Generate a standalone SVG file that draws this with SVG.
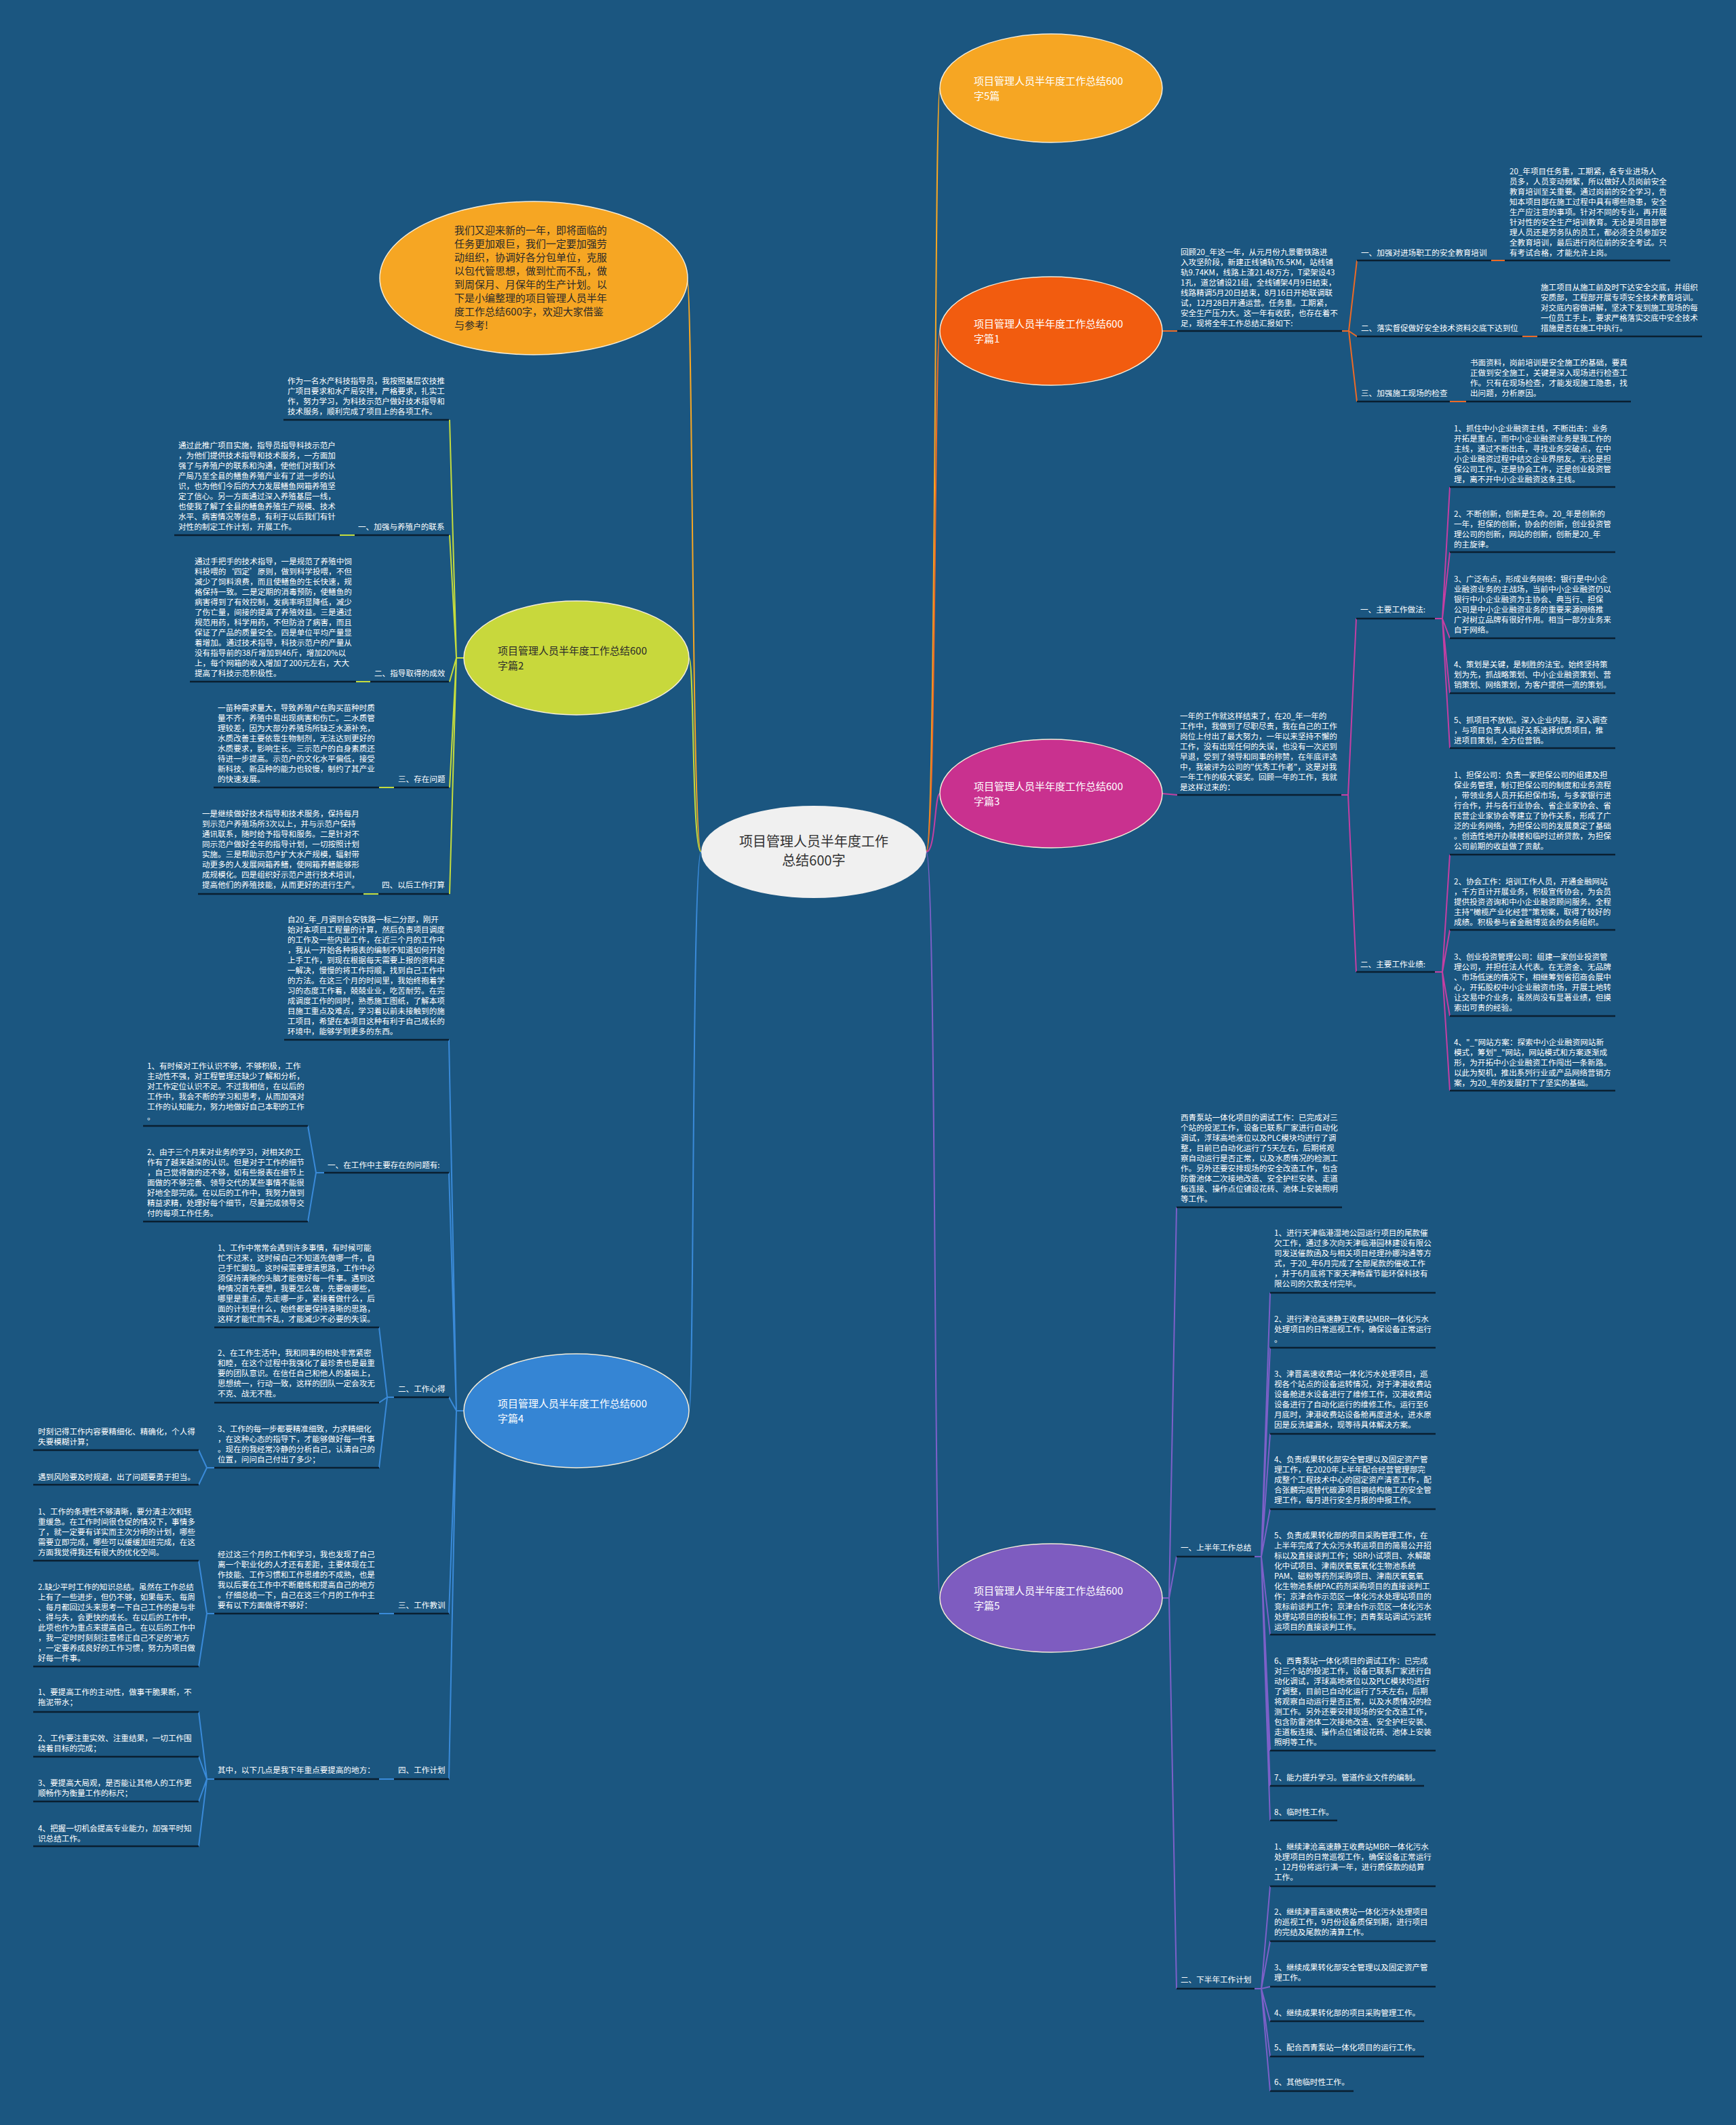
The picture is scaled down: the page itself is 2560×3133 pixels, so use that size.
<svg xmlns="http://www.w3.org/2000/svg" width="2560" height="3133" viewBox="0 0 2560 3133">
<style>
.w{fill:#ffffff;font-family:"Noto Sans CJK SC","Noto Sans",sans-serif;font-size:11.6px}
.nt{fill:#ffffff;font-family:"Noto Sans CJK SC","Noto Sans",sans-serif;font-size:15px}
.nd{fill:#2a2a2a;font-family:"Noto Sans CJK SC","Noto Sans",sans-serif;font-size:15px}
.ct{fill:#333333;font-family:"Noto Sans CJK SC","Noto Sans",sans-serif;font-size:20px;text-anchor:middle}
.u{stroke:#0a1f30;stroke-width:2.5;fill:none}
.c{fill:none;stroke-width:2}
.co{stroke:#f6a623}
.c1{stroke:#ee6a25}
.c3{stroke:#c43fa3}
.c5{stroke:#7c60c8}
.c2{stroke:#c5dc3c}
.c4{stroke:#3a8ad8}
.nodeE{stroke:#f4ecd8;stroke-width:1.5}
</style>
<rect x="0" y="0" width="2560" height="3133" fill="#1b5680"/>

<g id="connectors">
  <!-- center to main nodes -->
  <path class="c co" d="M1366 1256 C1380 1256 1378 130 1386 130"/>
  <path class="c c1" d="M1366 1256 C1380 1256 1378 488 1386 488"/>
  <path class="c c3" d="M1366 1256 C1380 1256 1378 1170 1386 1170"/>
  <path class="c c5" d="M1366 1256 C1380 1256 1378 2356 1386 2356"/>
  <path class="c co" d="M1034 1256 C1020 1256 1022 410 1013 410"/>
  <path class="c c2" d="M1034 1256 C1020 1256 1024 970 1016 970"/>
  <path class="c c4" d="M1034 1256 C1020 1256 1024 2080 1016 2080"/>

  <!-- 篇1 -->
  <path class="c c1" d="M1714 488 H1736"/>
  <path class="c c1" d="M1979 488 H1989 M1989 488 L2001 384 M1989 488 L2001 496 M1989 488 L2001 592"/>
  <path class="c c1" d="M2199 384 H2219 M2245 496 H2267 M2138 592 H2162"/>

  <!-- 篇3 -->
  <path class="c c3" d="M1714 1170 L1736 1172"/>
  <path class="c c3" d="M1978 1172 H1988 M1988 1172 L2000 912 M1988 1172 L2000 1433"/>
  <path class="c c3" d="M2116 912 H2127 M2127 912 L2138 718 M2127 912 L2138 814 M2127 912 L2138 941 M2127 912 L2138 1022 M2127 912 L2138 1103"/>
  <path class="c c3" d="M2116 1433 H2127 M2127 1433 L2138 1260 M2127 1433 L2138 1371 M2127 1433 L2138 1498 M2127 1433 L2138 1608"/>

  <!-- 篇5 -->
  <path class="c c5" d="M1714 2356 H1724 M1724 2356 L1735 1780 M1724 2356 L1735 2295 M1724 2356 L1735 2932"/>
  <path class="c c5" d="M1850 2295 H1860 M1860 2295 L1873 1906 M1860 2295 L1873 1987 M1860 2295 L1873 2114 M1860 2295 L1873 2225 M1860 2295 L1873 2410 M1860 2295 L1873 2581 M1860 2295 L1873 2633 M1860 2295 L1873 2684"/>
  <path class="c c5" d="M1850 2932 H1860 M1860 2932 L1873 2781 M1860 2932 L1873 2862 M1860 2932 L1873 2929 M1860 2932 L1873 2980 M1860 2932 L1873 3032 M1860 2932 L1873 3083"/>

  <!-- 篇2 -->
  <path class="c c2" d="M684 970 H673 M673 970 L663 619 M673 970 L663 789 M673 970 L663 1005 M673 970 L663 1161 M673 970 L663 1318"/>
  <path class="c c2" d="M501 789 H523 M525 1005 H546 M559 1161 H581 M536 1318 H558"/>

  <!-- 篇4 -->
  <path class="c c4" d="M684 2080 H673 M673 2080 L662 1533 M673 2080 L662 1729 M673 2080 L662 2060 M673 2080 L662 2379 M673 2080 L662 2623"/>
  <path class="c c4" d="M478 1729 H466 M466 1729 L454 1660 M466 1729 L454 1801"/>
  <path class="c c4" d="M581 2060 H571 M571 2060 L559 1957 M571 2060 L559 2068 M571 2060 L559 2164"/>
  <path class="c c4" d="M316 2164 H305 M305 2164 L293 2138 M305 2164 L293 2189"/>
  <path class="c c4" d="M581 2379 H559 M316 2379 H305 M305 2379 L293 2301 M305 2379 L293 2457"/>
  <path class="c c4" d="M581 2623 H559 M316 2623 H305 M305 2623 L293 2524 M305 2623 L293 2590 M305 2623 L293 2656 M305 2623 L293 2722"/>
</g>

<g id="underlines">
  <path class="u" d="M1736 488 H1979 M2001 384 H2199 M2001 496 H2245 M2001 592 H2138 M2219 384 H2463 M2267 496 H2510 M2162 592 H2405"/>
  <path class="u" d="M1736 1172 H1978 M2000 912 H2116 M2000 1433 H2116 M2138 718 H2382 M2138 814 H2382 M2138 941 H2382 M2138 1022 H2382 M2138 1103 H2382 M2138 1260 H2382 M2138 1371 H2382 M2138 1498 H2382 M2138 1608 H2382"/>
  <path class="u" d="M1735 1780 H1979 M1735 2295 H1850 M1735 2932 H1850 M1873 1906 H2117 M1873 1987 H2117 M1873 2114 H2117 M1873 2225 H2117 M1873 2410 H2117 M1873 2581 H2117 M1873 2633 H2100 M1873 2684 H1972 M1873 2781 H2117 M1873 2862 H2117 M1873 2929 H2117 M1873 2980 H2100 M1873 3032 H2100 M1873 3083 H1996"/>
  <path class="u" d="M418 619 H662 M523 789 H662 M257 789 H501 M546 1005 H662 M280 1005 H525 M581 1161 H662 M315 1161 H559 M558 1318 H662 M292 1318 H536"/>
  <path class="u" d="M419 1533 H662 M478 1729 H662 M211 1660 H454 M211 1801 H454 M581 2060 H662 M316 1957 H559 M316 2068 H559 M316 2164 H559 M49 2138 H293 M49 2189 H293 M581 2379 H662 M316 2379 H559 M49 2301 H293 M49 2457 H293 M581 2623 H662 M316 2623 H559 M49 2524 H293 M49 2590 H293 M49 2656 H293 M49 2722 H293"/>
</g>

<g id="center">
  <ellipse cx="1200" cy="1256" rx="166" ry="68" fill="#f0f0f0"/>
  <text class="ct" x="1200" y="1248">项目管理人员半年度工作</text>
  <text class="ct" x="1200" y="1276">总结600字</text>
</g>

<g id="node-intro">
  <ellipse class="nodeE" cx="787" cy="410" rx="227" ry="113" fill="#f6a623"/>
  <text class="nd" x="670" y="345"><tspan x="670">我们又迎来新的一年，即将面临的</tspan><tspan x="670" dy="20">任务更加艰巨，我们一定要加强劳</tspan><tspan x="670" dy="20">动组织，协调好各分包单位，克服</tspan><tspan x="670" dy="20">以包代管思想，做到忙而不乱，做</tspan><tspan x="670" dy="20">到周保月、月保年的生产计划。以</tspan><tspan x="670" dy="20">下是小编整理的项目管理人员半年</tspan><tspan x="670" dy="20">度工作总结600字，欢迎大家借鉴</tspan><tspan x="670" dy="20">与参考!</tspan></text>
</g>

<g id="node-p5top">
  <ellipse class="nodeE" cx="1550" cy="130" rx="164" ry="80" fill="#f6a623"/>
  <text class="nt" x="1436" y="125"><tspan x="1436">项目管理人员半年度工作总结600</tspan><tspan x="1436" dy="22">字5篇</tspan></text>
</g>

<g id="node-p1">
  <ellipse class="nodeE" cx="1550" cy="488" rx="164" ry="80" fill="#f25c0f"/>
  <text class="nt" x="1436" y="483"><tspan x="1436">项目管理人员半年度工作总结600</tspan><tspan x="1436" dy="22">字篇1</tspan></text>
  <text class="w" x="1741" y="376"><tspan x="1741">回顾20_年这一年，从元月份九景衢铁路进</tspan><tspan x="1741" dy="15">入攻坚阶段，新建正线铺轨76.5KM，站线铺</tspan><tspan x="1741" dy="15">轨9.74KM，线路上渣21.48万方，T梁架设43</tspan><tspan x="1741" dy="15">1孔，道岔铺设21组，全线铺架4月9日结束，</tspan><tspan x="1741" dy="15">线路精调5月20日结束，8月16日开始联调联</tspan><tspan x="1741" dy="15">试，12月28日开通运营。任务重。工期紧，</tspan><tspan x="1741" dy="15">安全生产压力大。这一年有收获，也存在着不</tspan><tspan x="1741" dy="15">足，现将全年工作总结汇报如下:</tspan></text>
  <text class="w" x="2007" y="377">一、加强对进场职工的安全教育培训</text>
  <text class="w" x="2007" y="488">二、落实督促做好安全技术资料交底下达到位</text>
  <text class="w" x="2007" y="584">三、加强施工现场的检查</text>
  <text class="w" x="2226" y="257"><tspan x="2226">20_年项目任务重，工期紧，各专业进场人</tspan><tspan x="2226" dy="15">员多，人员变动频繁，所以做好人员岗前安全</tspan><tspan x="2226" dy="15">教育培训至关重要。通过岗前的安全学习，告</tspan><tspan x="2226" dy="15">知本项目部在施工过程中具有哪些隐患，安全</tspan><tspan x="2226" dy="15">生产应注意的事项。针对不同的专业，再开展</tspan><tspan x="2226" dy="15">针对性的安全生产培训教育。无论是项目部管</tspan><tspan x="2226" dy="15">理人员还是劳务队的员工，都必须全员参加安</tspan><tspan x="2226" dy="15">全教育培训，最后进行岗位前的安全考试。只</tspan><tspan x="2226" dy="15">有考试合格，才能允许上岗。</tspan></text>
  <text class="w" x="2272" y="428"><tspan x="2272">施工项目从施工前及时下达安全交底，并组织</tspan><tspan x="2272" dy="15">安质部，工程部开展专项安全技术教育培训。</tspan><tspan x="2272" dy="15">对交底内容做讲解，坚决下发到施工现场的每</tspan><tspan x="2272" dy="15">一位员工手上，要求严格落实交底中安全技术</tspan><tspan x="2272" dy="15">措施是否在施工中执行。</tspan></text>
  <text class="w" x="2168" y="539"><tspan x="2168">书面资料，岗前培训是安全施工的基础，要真</tspan><tspan x="2168" dy="15">正做到安全施工，关键是深入现场进行检查工</tspan><tspan x="2168" dy="15">作。只有在现场检查，才能发现施工隐患，找</tspan><tspan x="2168" dy="15">出问题，分析原因。</tspan></text>
</g>

<g id="node-p3">
  <ellipse class="nodeE" cx="1550" cy="1170" rx="164" ry="80" fill="#c9318f"/>
  <text class="nt" x="1436" y="1165"><tspan x="1436">项目管理人员半年度工作总结600</tspan><tspan x="1436" dy="22">字篇3</tspan></text>
  <text class="w" x="1740" y="1060"><tspan x="1740">一年的工作就这样结束了，在20_年一年的</tspan><tspan x="1740" dy="15">工作中，我做到了尽职尽责，我在自己的工作</tspan><tspan x="1740" dy="15">岗位上付出了最大努力，一年以来坚持不懈的</tspan><tspan x="1740" dy="15">工作，没有出现任何的失误，也没有一次迟到</tspan><tspan x="1740" dy="15">早退，受到了领导和同事的称赞，在年底评选</tspan><tspan x="1740" dy="15">中，我被评为公司的"优秀工作者"，这是对我</tspan><tspan x="1740" dy="15">一年工作的极大褒奖。回顾一年的工作，我就</tspan><tspan x="1740" dy="15">是这样过来的：</tspan></text>
  <text class="w" x="2006" y="903">一、主要工作做法:</text>
  <text class="w" x="2006" y="1426">二、主要工作业绩:</text>
  <text class="w" x="2144" y="636"><tspan x="2144">1、抓住中小企业融资主线，不断出击：业务</tspan><tspan x="2144" dy="15">开拓是重点，而中小企业融资业务是我工作的</tspan><tspan x="2144" dy="15">主线，通过不断出击，寻找业务突破点，在中</tspan><tspan x="2144" dy="15">小企业融资过程中结交企业界朋友。无论是担</tspan><tspan x="2144" dy="15">保公司工作，还是协会工作，还是创业投资管</tspan><tspan x="2144" dy="15">理，离不开中小企业融资这条主线。</tspan></text>
  <text class="w" x="2144" y="762"><tspan x="2144">2、不断创新，创新是生命。20_年是创新的</tspan><tspan x="2144" dy="15">一年，担保的创新，协会的创新，创业投资管</tspan><tspan x="2144" dy="15">理公司的创新，网站的创新，创新是20_年</tspan><tspan x="2144" dy="15">的主旋律。</tspan></text>
  <text class="w" x="2144" y="858"><tspan x="2144">3、广泛布点，形成业务网络：银行是中小企</tspan><tspan x="2144" dy="15">业融资业务的主战场，当前中小企业融资仍以</tspan><tspan x="2144" dy="15">银行中小企业融资为主协会、典当行、担保</tspan><tspan x="2144" dy="15">公司是中小企业融资业务的重要来源网络推</tspan><tspan x="2144" dy="15">广对树立品牌有很好作用。相当一部分业务来</tspan><tspan x="2144" dy="15">自于网络。</tspan></text>
  <text class="w" x="2144" y="984"><tspan x="2144">4、策划是关键，是制胜的法宝。始终坚持策</tspan><tspan x="2144" dy="15">划为先，抓战略策划、中小企业融资策划、营</tspan><tspan x="2144" dy="15">销策划、网络策划，为客户提供一流的策划。</tspan></text>
  <text class="w" x="2144" y="1066"><tspan x="2144">5、抓项目不放松。深入企业内部，深入调查</tspan><tspan x="2144" dy="15">，与项目负责人搞好关系选择优质项目，推</tspan><tspan x="2144" dy="15">进项目策划，全方位营销。</tspan></text>
  <text class="w" x="2144" y="1147"><tspan x="2144">1、担保公司：负责一家担保公司的组建及担</tspan><tspan x="2144" dy="15">保业务管理，制订担保公司的制度和业务流程</tspan><tspan x="2144" dy="15">，带领业务人员开拓担保市场，与多家银行进</tspan><tspan x="2144" dy="15">行合作，并与各行业协会、省企业家协会、省</tspan><tspan x="2144" dy="15">民营企业家协会等建立了协作关系，形成了广</tspan><tspan x="2144" dy="15">泛的业务网络，为担保公司的发展奠定了基础</tspan><tspan x="2144" dy="15">。创造性地开办赎楼和临时过桥贷款，为担保</tspan><tspan x="2144" dy="15">公司前期的收益做了贡献。</tspan></text>
  <text class="w" x="2144" y="1304"><tspan x="2144">2、协会工作：培训工作人员，开通金融网站</tspan><tspan x="2144" dy="15">，千方百计开展业务，积极宣传协会，为会员</tspan><tspan x="2144" dy="15">提供投资咨询和中小企业融资顾问服务。全程</tspan><tspan x="2144" dy="15">主持"橄榄产业化经营"策划案，取得了较好的</tspan><tspan x="2144" dy="15">成绩。积极参与省金融博览会的会务组织。</tspan></text>
  <text class="w" x="2144" y="1415"><tspan x="2144">3、创业投资管理公司：组建一家创业投资管</tspan><tspan x="2144" dy="15">理公司，并担任法人代表。在无资金、无品牌</tspan><tspan x="2144" dy="15">、市场低迷的情况下，相继筹划省招商会展中</tspan><tspan x="2144" dy="15">心，开拓股权中小企业融资市场，开展土地转</tspan><tspan x="2144" dy="15">让交易中介业务，虽然尚没有显著业绩，但摸</tspan><tspan x="2144" dy="15">索出可贵的经验。</tspan></text>
  <text class="w" x="2144" y="1541"><tspan x="2144">4、"_"网站方案：探索中小企业融资网站新</tspan><tspan x="2144" dy="15">模式，筹划"_"网站，网站模式和方案逐渐成</tspan><tspan x="2144" dy="15">形，为开拓中小企业融资工作闯出一条新路。</tspan><tspan x="2144" dy="15">以此为契机，推出系列行业或产品网络营销方</tspan><tspan x="2144" dy="15">案，为20_年的发展打下了坚实的基础。</tspan></text>
</g>

<g id="node-p5">
  <ellipse class="nodeE" cx="1550" cy="2356" rx="164" ry="80" fill="#7e5cc0"/>
  <text class="nt" x="1436" y="2351"><tspan x="1436">项目管理人员半年度工作总结600</tspan><tspan x="1436" dy="22">字篇5</tspan></text>
  <text class="w" x="1741" y="1652"><tspan x="1741">西青泵站一体化项目的调试工作：已完成对三</tspan><tspan x="1741" dy="15">个站的投泥工作，设备已联系厂家进行自动化</tspan><tspan x="1741" dy="15">调试，浮球高地液位以及PLC模块均进行了调</tspan><tspan x="1741" dy="15">整，目前已自动化运行了5天左右，后期将观</tspan><tspan x="1741" dy="15">察自动运行是否正常，以及水质情况的检测工</tspan><tspan x="1741" dy="15">作。另外还要安排现场的安全改造工作，包含</tspan><tspan x="1741" dy="15">防雷池体二次接地改造、安全护栏安装、走道</tspan><tspan x="1741" dy="15">板连接、操作点位铺设花砖、池体上安装照明</tspan><tspan x="1741" dy="15">等工作。</tspan></text>
  <text class="w" x="1741" y="2286">一、上半年工作总结</text>
  <text class="w" x="1741" y="2923">二、下半年工作计划</text>
  <text class="w" x="1879" y="1822"><tspan x="1879">1、进行天津临港湿地公园运行项目的尾款催</tspan><tspan x="1879" dy="15">欠工作，通过多次向天津临港园林建设有限公</tspan><tspan x="1879" dy="15">司发送催款函及与相关项目经理孙娜沟通等方</tspan><tspan x="1879" dy="15">式，于20_年6月完成了全部尾款的催收工作</tspan><tspan x="1879" dy="15">，并于6月底将下家天津畅霖节能环保科技有</tspan><tspan x="1879" dy="15">限公司的欠款支付完毕。</tspan></text>
  <text class="w" x="1879" y="1949"><tspan x="1879">2、进行津沧高速静王收费站MBR一体化污水</tspan><tspan x="1879" dy="15">处理项目的日常巡视工作，确保设备正常运行</tspan><tspan x="1879" dy="15">。</tspan></text>
  <text class="w" x="1879" y="2030"><tspan x="1879">3、津晋高速收费站一体化污水处理项目，巡</tspan><tspan x="1879" dy="15">视各个站点的设备运转情况，对于津港收费站</tspan><tspan x="1879" dy="15">设备舱进水设备进行了维修工作，汉港收费站</tspan><tspan x="1879" dy="15">设备进行了自动化运行的维修工作。运行至6</tspan><tspan x="1879" dy="15">月底时，津港收费站设备舱再度进水，进水原</tspan><tspan x="1879" dy="15">因是反洗罐漏水，现等待具体解决方案。</tspan></text>
  <text class="w" x="1879" y="2156"><tspan x="1879">4、负责成果转化部安全管理以及固定资产管</tspan><tspan x="1879" dy="15">理工作，在2020年上半年配合经营管理部完</tspan><tspan x="1879" dy="15">成整个工程技术中心的固定资产清查工作，配</tspan><tspan x="1879" dy="15">合张麟完成替代碳源项目钢结构施工的安全管</tspan><tspan x="1879" dy="15">理工作，每月进行安全月报的申报工作。</tspan></text>
  <text class="w" x="1879" y="2268"><tspan x="1879">5、负责成果转化部的项目采购管理工作，在</tspan><tspan x="1879" dy="15">上半年完成了大众污水转运项目的简易公开招</tspan><tspan x="1879" dy="15">标以及直接谈判工作；SBR小试项目、水解酸</tspan><tspan x="1879" dy="15">化中试项目、津南厌氧氨氧化生物池系统</tspan><tspan x="1879" dy="15">PAM、磁粉等药剂采购项目、津南厌氧氨氧</tspan><tspan x="1879" dy="15">化生物池系统PAC药剂采购项目的直接谈判工</tspan><tspan x="1879" dy="15">作；京津合作示范区一体化污水处理站项目的</tspan><tspan x="1879" dy="15">竞标前谈判工作；京津合作示范区一体化污水</tspan><tspan x="1879" dy="15">处理站项目的投标工作；西青泵站调试污泥转</tspan><tspan x="1879" dy="15">运项目的直接谈判工作。</tspan></text>
  <text class="w" x="1879" y="2453"><tspan x="1879">6、西青泵站一体化项目的调试工作：已完成</tspan><tspan x="1879" dy="15">对三个站的投泥工作，设备已联系厂家进行自</tspan><tspan x="1879" dy="15">动化调试，浮球高地液位以及PLC模块均进行</tspan><tspan x="1879" dy="15">了调整，目前已自动化运行了5天左右，后期</tspan><tspan x="1879" dy="15">将观察自动运行是否正常，以及水质情况的检</tspan><tspan x="1879" dy="15">测工作。另外还要安排现场的安全改造工作，</tspan><tspan x="1879" dy="15">包含防雷池体二次接地改造、安全护栏安装、</tspan><tspan x="1879" dy="15">走道板连接、操作点位铺设花砖、池体上安装</tspan><tspan x="1879" dy="15">照明等工作。</tspan></text>
  <text class="w" x="1879" y="2625">7、能力提升学习。管道作业文件的编制。</text>
  <text class="w" x="1879" y="2676">8、临时性工作。</text>
  <text class="w" x="1879" y="2727"><tspan x="1879">1、继续津沧高速静王收费站MBR一体化污水</tspan><tspan x="1879" dy="15">处理项目的日常巡视工作，确保设备正常运行</tspan><tspan x="1879" dy="15">，12月份将运行满一年，进行质保款的结算</tspan><tspan x="1879" dy="15">工作。</tspan></text>
  <text class="w" x="1879" y="2823"><tspan x="1879">2、继续津晋高速收费站一体化污水处理项目</tspan><tspan x="1879" dy="15">的巡视工作，9月份设备质保到期，进行项目</tspan><tspan x="1879" dy="15">的完结及尾款的清算工作。</tspan></text>
  <text class="w" x="1879" y="2905"><tspan x="1879">3、继续成果转化部安全管理以及固定资产管</tspan><tspan x="1879" dy="15">理工作。</tspan></text>
  <text class="w" x="1879" y="2972">4、继续成果转化部的项目采购管理工作。</text>
  <text class="w" x="1879" y="3023">5、配合西青泵站一体化项目的运行工作。</text>
  <text class="w" x="1879" y="3074">6、其他临时性工作。</text>
</g>

<g id="node-p2">
  <ellipse class="nodeE" cx="850" cy="970" rx="166" ry="84" fill="#c8d83c"/>
  <text class="nd" x="734" y="965"><tspan x="734">项目管理人员半年度工作总结600</tspan><tspan x="734" dy="22">字篇2</tspan></text>
  <text class="w" x="424" y="566"><tspan x="424">作为一名水产科技指导员，我按照基层农技推</tspan><tspan x="424" dy="15">广项目要求和水产局安排，严格要求，扎实工</tspan><tspan x="424" dy="15">作，努力学习，为科技示范户做好技术指导和</tspan><tspan x="424" dy="15">技术服务，顺利完成了项目上的各项工作。</tspan></text>
  <text class="w" x="528" y="781">一、加强与养殖户的联系</text>
  <text class="w" x="263" y="661"><tspan x="263">通过此推广项目实施，指导员指导科技示范户</tspan><tspan x="263" dy="15">，为他们提供技术指导和技术服务，一方面加</tspan><tspan x="263" dy="15">强了与养殖户的联系和沟通，使他们对我们水</tspan><tspan x="263" dy="15">产局乃至全县的鳝鱼养殖产业有了进一步的认</tspan><tspan x="263" dy="15">识，也为他们今后的大力发展鳝鱼网箱养殖坚</tspan><tspan x="263" dy="15">定了信心。另一方面通过深入养殖基层一线，</tspan><tspan x="263" dy="15">也使我了解了全县的鳝鱼养殖生产规模、技术</tspan><tspan x="263" dy="15">水平、病害情况等信息，有利于以后我们有针</tspan><tspan x="263" dy="15">对性的制定工作计划，开展工作。</tspan></text>
  <text class="w" x="552" y="997">二、指导取得的成效</text>
  <text class="w" x="287" y="832"><tspan x="287">通过手把手的技术指导，一是规范了养殖中饲</tspan><tspan x="287" dy="15">料投喂的‘四定’原则，做到科学投喂，不但</tspan><tspan x="287" dy="15">减少了饲料浪费，而且使鳝鱼的生长快速，规</tspan><tspan x="287" dy="15">格保持一致。二是定期的消毒预防，使鳝鱼的</tspan><tspan x="287" dy="15">病害得到了有效控制，发病率明显降低，减少</tspan><tspan x="287" dy="15">了伤亡量，间接的提高了养殖效益。三是通过</tspan><tspan x="287" dy="15">规范用药，科学用药，不但防治了病害，而且</tspan><tspan x="287" dy="15">保证了产品的质量安全。四是单位平均产量显</tspan><tspan x="287" dy="15">着增加。通过技术指导，科技示范户的产量从</tspan><tspan x="287" dy="15">没有指导前的38斤增加到46斤，增加20%以</tspan><tspan x="287" dy="15">上，每个网箱的收入增加了200元左右，大大</tspan><tspan x="287" dy="15">提高了科技示范积极性。</tspan></text>
  <text class="w" x="587" y="1153">三、存在问题</text>
  <text class="w" x="321" y="1048"><tspan x="321">一苗种需求量大，导致养殖户在购买苗种时质</tspan><tspan x="321" dy="15">量不齐，养殖中易出现病害和伤亡。二水质管</tspan><tspan x="321" dy="15">理较差，因为大部分养殖场所缺乏水源补充，</tspan><tspan x="321" dy="15">水质改善主要依靠生物制剂，无法达到更好的</tspan><tspan x="321" dy="15">水质要求，影响生长。三示范户的自身素质还</tspan><tspan x="321" dy="15">待进一步提高。示范户的文化水平偏低，接受</tspan><tspan x="321" dy="15">新科技、新品种的能力也较慢，制约了其产业</tspan><tspan x="321" dy="15">的快速发展。</tspan></text>
  <text class="w" x="563" y="1309">四、以后工作打算</text>
  <text class="w" x="298" y="1204"><tspan x="298">一是继续做好技术指导和技术服务，保持每月</tspan><tspan x="298" dy="15">到示范户养殖场所3次以上，并与示范户保持</tspan><tspan x="298" dy="15">通讯联系，随时给予指导和服务。二是针对不</tspan><tspan x="298" dy="15">同示范户做好全年的指导计划，一切按照计划</tspan><tspan x="298" dy="15">实施。三是帮助示范户扩大水产规模，辐射带</tspan><tspan x="298" dy="15">动更多的人发展网箱养鳝，使网箱养鳝能够形</tspan><tspan x="298" dy="15">成规模化。四是组织好示范户进行技术培训，</tspan><tspan x="298" dy="15">提高他们的养殖技能，从而更好的进行生产。</tspan></text>
</g>

<g id="node-p4">
  <ellipse class="nodeE" cx="850" cy="2080" rx="166" ry="84" fill="#3585d4"/>
  <text class="nt" x="734" y="2075"><tspan x="734">项目管理人员半年度工作总结600</tspan><tspan x="734" dy="22">字篇4</tspan></text>
  <text class="w" x="424" y="1360"><tspan x="424">自20_年_月调到合安铁路一标二分部，刚开</tspan><tspan x="424" dy="15">始对本项目工程量的计算，然后负责项目调度</tspan><tspan x="424" dy="15">的工作及一些内业工作，在近三个月的工作中</tspan><tspan x="424" dy="15">，我从一开始各种报表的编制不知道如何开始</tspan><tspan x="424" dy="15">上手工作，到现在根据每天需要上报的资料逐</tspan><tspan x="424" dy="15">一解决，慢慢的将工作捋顺，找到自己工作中</tspan><tspan x="424" dy="15">的方法。在这三个月的时间里，我始终抱着学</tspan><tspan x="424" dy="15">习的态度工作着，兢兢业业，吃苦耐劳。在完</tspan><tspan x="424" dy="15">成调度工作的同时，熟悉施工图纸，了解本项</tspan><tspan x="424" dy="15">目施工重点及难点，学习着以前未接触到的施</tspan><tspan x="424" dy="15">工项目，希望在本项目这种有利于自己成长的</tspan><tspan x="424" dy="15">环境中，能够学到更多的东西。</tspan></text>
  <text class="w" x="483" y="1722">一、在工作中主要存在的问题有:</text>
  <text class="w" x="217" y="1576"><tspan x="217">1、有时候对工作认识不够，不够积极，工作</tspan><tspan x="217" dy="15">主动性不强，对工程管理还缺少了解和分析，</tspan><tspan x="217" dy="15">对工作定位认识不足。不过我相信，在以后的</tspan><tspan x="217" dy="15">工作中，我会不断的学习和思考，从而加强对</tspan><tspan x="217" dy="15">工作的认知能力，努力地做好自己本职的工作</tspan><tspan x="217" dy="15">。</tspan></text>
  <text class="w" x="217" y="1703"><tspan x="217">2、由于三个月来对业务的学习，对相关的工</tspan><tspan x="217" dy="15">作有了越来越深的认识。但是对于工作的细节</tspan><tspan x="217" dy="15">，自己觉得做的还不够，如有些报表在细节上</tspan><tspan x="217" dy="15">面做的不够完善、领导交代的某些事情不能很</tspan><tspan x="217" dy="15">好地全部完成。在以后的工作中，我努力做到</tspan><tspan x="217" dy="15">精益求精，处理好每个细节，尽量完成领导交</tspan><tspan x="217" dy="15">付的每项工作任务。</tspan></text>
  <text class="w" x="587" y="2052">二、工作心得</text>
  <text class="w" x="321" y="1844"><tspan x="321">1、工作中常常会遇到许多事情，有时候可能</tspan><tspan x="321" dy="15">忙不过来，这时候自己不知道先做哪一件，自</tspan><tspan x="321" dy="15">己手忙脚乱。这时候需要理清思路，工作中必</tspan><tspan x="321" dy="15">须保持清晰的头脑才能做好每一件事。遇到这</tspan><tspan x="321" dy="15">种情况首先要想，我要怎么做，先要做哪些，</tspan><tspan x="321" dy="15">哪里是重点，先走哪一步，紧接着做什么，后</tspan><tspan x="321" dy="15">面的计划是什么，始终都要保持清晰的思路，</tspan><tspan x="321" dy="15">这样才能忙而不乱，才能减少不必要的失误。</tspan></text>
  <text class="w" x="321" y="1999"><tspan x="321">2、在工作生活中，我和同事的相处非常紧密</tspan><tspan x="321" dy="15">和睦，在这个过程中我强化了最珍贵也是最重</tspan><tspan x="321" dy="15">要的团队意识。在信任自己和他人的基础上，</tspan><tspan x="321" dy="15">思想统一，行动一致，这样的团队一定会攻无</tspan><tspan x="321" dy="15">不克、战无不胜。</tspan></text>
  <text class="w" x="321" y="2111"><tspan x="321">3、工作的每一步都要精准细致，力求精细化</tspan><tspan x="321" dy="15">，在这种心态的指导下，才能够做好每一件事</tspan><tspan x="321" dy="15">。现在的我经常冷静的分析自己，认清自己的</tspan><tspan x="321" dy="15">位置，问问自己付出了多少；</tspan></text>
  <text class="w" x="56" y="2115"><tspan x="56">时刻记得工作内容要精细化、精确化，个人得</tspan><tspan x="56" dy="15">失要模糊计算；</tspan></text>
  <text class="w" x="56" y="2182">遇到风险要及时规避，出了问题要勇于担当。</text>
  <text class="w" x="587" y="2371">三、工作教训</text>
  <text class="w" x="321" y="2296"><tspan x="321">经过这三个月的工作和学习，我也发现了自己</tspan><tspan x="321" dy="15">离一个职业化的人才还有差距，主要体现在工</tspan><tspan x="321" dy="15">作技能、工作习惯和工作思维的不成熟，也是</tspan><tspan x="321" dy="15">我以后要在工作中不断磨练和提高自己的地方</tspan><tspan x="321" dy="15">。仔细总结一下，自己在这三个月的工作中主</tspan><tspan x="321" dy="15">要有以下方面做得不够好：</tspan></text>
  <text class="w" x="56" y="2233"><tspan x="56">1、工作的条理性不够清晰，要分清主次和轻</tspan><tspan x="56" dy="15">重缓急。在工作时间很仓促的情况下，事情多</tspan><tspan x="56" dy="15">了，就一定要有详实而主次分明的计划，哪些</tspan><tspan x="56" dy="15">需要立即完成，哪些可以缓缓加班完成，在这</tspan><tspan x="56" dy="15">方面我觉得我还有很大的优化空间。</tspan></text>
  <text class="w" x="56" y="2344"><tspan x="56">2.缺少平时工作的知识总结。虽然在工作总结</tspan><tspan x="56" dy="15">上有了一些进步，但仍不够，如果每天、每周</tspan><tspan x="56" dy="15">、每月都回过头来思考一下自己工作的是与非</tspan><tspan x="56" dy="15">、得与失，会更快的成长。在以后的工作中，</tspan><tspan x="56" dy="15">此项也作为重点来提高自己。在以后的工作中</tspan><tspan x="56" dy="15">，我一定时时刻刻注意修正自己不足的'地方</tspan><tspan x="56" dy="15">，一定要养成良好的工作习惯，努力为项目做</tspan><tspan x="56" dy="15">好每一件事。</tspan></text>
  <text class="w" x="587" y="2614">四、工作计划</text>
  <text class="w" x="321" y="2614">其中，以下几点是我下年重点要提高的地方：</text>
  <text class="w" x="56" y="2499"><tspan x="56">1、要提高工作的主动性，做事干脆果断，不</tspan><tspan x="56" dy="15">拖泥带水；</tspan></text>
  <text class="w" x="56" y="2567"><tspan x="56">2、工作要注重实效、注重结果，一切工作围</tspan><tspan x="56" dy="15">绕着目标的完成；</tspan></text>
  <text class="w" x="56" y="2633"><tspan x="56">3、要提高大局观，是否能让其他人的工作更</tspan><tspan x="56" dy="15">顺畅作为衡量工作的标尺；</tspan></text>
  <text class="w" x="56" y="2700"><tspan x="56">4、把握一切机会提高专业能力，加强平时知</tspan><tspan x="56" dy="15">识总结工作。</tspan></text>
</g>
</svg>
